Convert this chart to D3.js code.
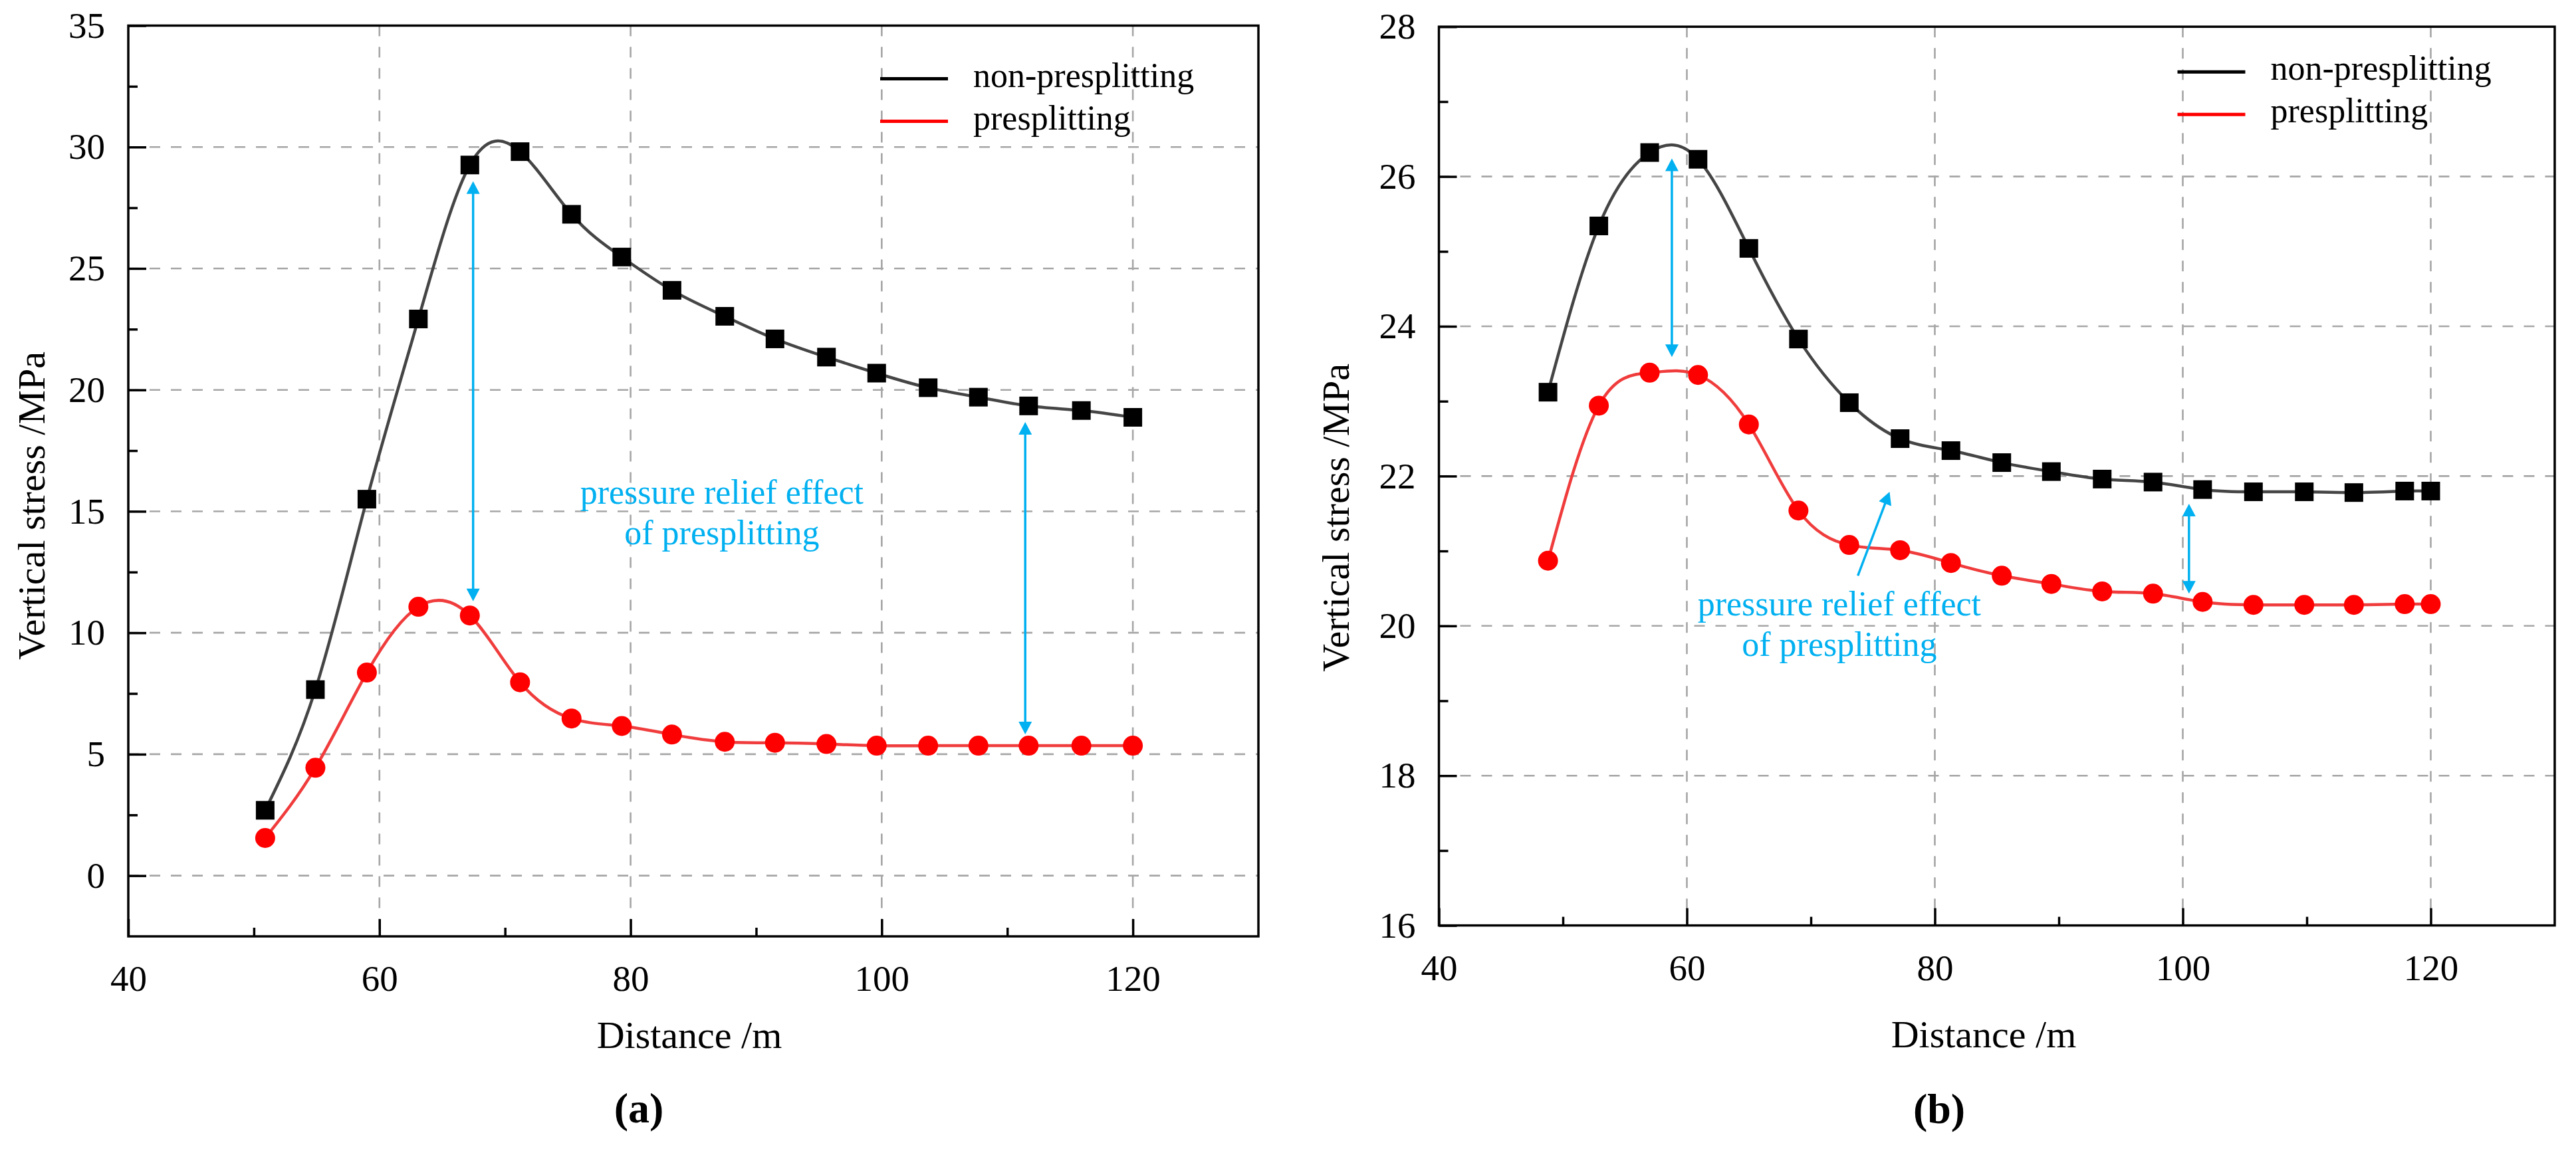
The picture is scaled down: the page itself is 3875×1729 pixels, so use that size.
<!DOCTYPE html>
<html>
<head>
<meta charset="utf-8">
<script src="https://cdn.jsdelivr.net/npm/d3@7"></script>
<style>
  body { margin: 0; background: #fff; }
  svg { display: block; font-family: "Liberation Serif", "Times New Roman", serif; }
</style>
</head>
<body>
<svg width="3875" height="1729"></svg>
<script>
// Values (distance in m, vertical stress in MPa)
var distA = [50.9, 54.9, 59.0, 63.1, 67.2, 71.2, 75.3, 79.3, 83.3, 87.5, 91.5, 95.6, 99.6, 103.7, 107.7, 111.7, 115.9, 120.0];
var nonPresplitA = [2.69, 7.66, 15.5, 22.92, 29.26, 29.81, 27.23, 25.47, 24.10, 23.03, 22.10, 21.35, 20.69, 20.09, 19.70, 19.34, 19.15, 18.87];
var presplitA = [1.55, 4.44, 8.36, 11.07, 10.71, 7.96, 6.47, 6.16, 5.81, 5.51, 5.47, 5.42, 5.35, 5.35, 5.35, 5.35, 5.35, 5.35];

var distB = [48.8, 52.9, 57.0, 60.9, 65.0, 69.0, 73.1, 77.2, 81.3, 85.4, 89.4, 93.5, 97.6, 101.6, 105.7, 109.8, 113.8, 117.9, 120.0];
var nonPresplitB = [23.12, 25.34, 26.32, 26.23, 25.04, 23.83, 22.98, 22.50, 22.34, 22.18, 22.06, 21.96, 21.92, 21.82, 21.79, 21.79, 21.78, 21.80, 21.80];
var presplitB = [20.87, 22.94, 23.38, 23.35, 22.69, 21.54, 21.08, 21.01, 20.84, 20.67, 20.56, 20.46, 20.43, 20.32, 20.28, 20.28, 20.28, 20.29, 20.29];

// Tick values
var xTicks = [40, 60, 80, 100, 120];
var xMinorTicks = [50, 70, 90, 110];
var yTicksA = [0, 5, 10, 15, 20, 25, 30, 35];
var yMinorTicksA = [2.5, 7.5, 12.5, 17.5, 22.5, 27.5, 32.5];
var yTicksB = [16, 18, 20, 22, 24, 26, 28];
var yMinorTicksB = [17, 19, 21, 23, 25, 27];

// Series / legend labels
var seriesNames = ["non-presplitting", "presplitting"];
var annotationLines = ["pressure relief effect", "of presplitting"];

// Arrows in data units: [x1, y1, x2, y2, doubleHeaded]
var arrowsA = [[67.46, 28.59, 67.46, 11.3, true], [111.43, 18.68, 111.43, 5.82, true]];
var arrowsB = [[58.79, 26.24, 58.79, 23.59, true], [100.5, 21.63, 100.5, 20.43, true], [73.79, 20.67, 76.35, 21.79, false]];
// Annotation text anchor (centre x, first baseline y, second baseline y) in data units
var noteA = [87.27, 15.31, 13.64];
var noteB = [72.3, 20.14, 19.60];

var svg = d3.select("svg");
var cyan = "#00b0f0";

function drawPanel(p) {
  var x = d3.scaleLinear().domain([40, 130]).range([p.left, p.right]),
      y = d3.scaleLinear().domain(p.yDomain).range([p.bottom, p.top]),
      g = svg.append("g");

  // dashed grid
  var grid = g.append("g")
    .attr("stroke", "#a6a6a6")
    .attr("stroke-width", 2.6)
    .attr("stroke-dasharray", "16,16");
  grid.selectAll(".vg")
    .data(xTicks.filter(function(d) { return d > 40 && d < 130; }))
    .enter().append("line")
    .attr("x1", function(d) { return x(d); })
    .attr("x2", function(d) { return x(d); })
    .attr("y1", p.top)
    .attr("y2", p.bottom);
  grid.selectAll(".hg")
    .data(p.yTicks.filter(function(d) { return d > p.yDomain[0] && d < p.yDomain[1]; }))
    .enter().append("line")
    .attr("x1", p.left)
    .attr("x2", p.right)
    .attr("y1", function(d) { return y(d); })
    .attr("y2", function(d) { return y(d); });

  // curves
  var line = d3.line()
    .x(function(d) { return x(d[0]); })
    .y(function(d) { return y(d[1]); })
    .curve(d3.curveNatural);
  g.append("path")
    .datum(d3.zip(p.dist, p.red))
    .attr("fill", "none")
    .attr("stroke", "#f03c3c")
    .attr("stroke-width", 4.5)
    .attr("d", line);
  g.append("path")
    .datum(d3.zip(p.dist, p.black))
    .attr("fill", "none")
    .attr("stroke", "#454545")
    .attr("stroke-width", 4.5)
    .attr("d", line);

  // markers
  g.selectAll(".sq")
    .data(d3.zip(p.dist, p.black))
    .enter().append("rect")
    .attr("x", function(d) { return x(d[0]) - 14; })
    .attr("y", function(d) { return y(d[1]) - 14; })
    .attr("width", 28)
    .attr("height", 28)
    .attr("fill", "#000");
  g.selectAll(".dot")
    .data(d3.zip(p.dist, p.red))
    .enter().append("circle")
    .attr("cx", function(d) { return x(d[0]); })
    .attr("cy", function(d) { return y(d[1]); })
    .attr("r", 15)
    .attr("fill", "#ff0000");

  // arrows
  p.arrows.forEach(function(a) {
    var x1 = x(a[0]), y1 = y(a[1]), x2 = x(a[2]), y2 = y(a[3]);
    var len = Math.hypot(x2 - x1, y2 - y1), ux = (x2 - x1) / len, uy = (y2 - y1) / len;
    var head = 19, half = 10;
    var sx = a[4] ? x1 + ux * (head - 2) : x1, sy = a[4] ? y1 + uy * (head - 2) : y1;
    g.append("line")
      .attr("x1", sx).attr("y1", sy)
      .attr("x2", x2 - ux * (head - 2)).attr("y2", y2 - uy * (head - 2))
      .attr("stroke", cyan)
      .attr("stroke-width", 3.5);
    var heads = [[x2, y2, ux, uy]];
    if (a[4]) heads.push([x1, y1, -ux, -uy]);
    heads.forEach(function(h) {
      var bx = h[0] - h[2] * head, by = h[1] - h[3] * head;
      g.append("path")
        .attr("d", "M" + h[0] + "," + h[1] +
          "L" + (bx - h[3] * half) + "," + (by + h[2] * half) +
          "L" + (bx + h[3] * half) + "," + (by - h[2] * half) + "Z")
        .attr("fill", cyan);
    });
  });

  // annotation text
  g.selectAll(".note")
    .data(annotationLines)
    .enter().append("text")
    .attr("x", x(p.note[0]))
    .attr("y", function(d, i) { return y(p.note[i + 1]); })
    .attr("text-anchor", "middle")
    .attr("font-size", 52)
    .attr("fill", cyan)
    .text(function(d) { return d; });

  // axes (ticks pointing inward)
  function styleAxis(sel) {
    sel.attr("font-family", null).attr("font-size", 55);
    sel.select(".domain").remove();
    sel.selectAll("line").attr("stroke", "#000").attr("stroke-width", 3.5);
    sel.selectAll("text").attr("fill", "#000");
  }
  g.append("g")
    .attr("transform", "translate(0," + p.bottom + ")")
    .call(d3.axisBottom(x).tickValues(xTicks).tickSize(-26).tickPadding(43).tickFormat(d3.format("d")))
    .call(styleAxis);
  g.append("g")
    .attr("transform", "translate(0," + p.bottom + ")")
    .call(d3.axisBottom(x).tickValues(xMinorTicks).tickSize(-13).tickFormat(""))
    .call(styleAxis);
  g.append("g")
    .attr("transform", "translate(" + p.left + ",0)")
    .call(d3.axisLeft(y).tickValues(p.yTicks).tickSize(-27).tickPadding(35).tickFormat(d3.format("d")))
    .call(styleAxis);
  g.append("g")
    .attr("transform", "translate(" + p.left + ",0)")
    .call(d3.axisLeft(y).tickValues(p.yMinor).tickSize(-14).tickFormat(""))
    .call(styleAxis);

  // frame
  g.append("rect")
    .attr("x", p.left)
    .attr("y", p.top)
    .attr("width", p.right - p.left)
    .attr("height", p.bottom - p.top)
    .attr("fill", "none")
    .attr("stroke", "#000")
    .attr("stroke-width", 3.5);

  // axis titles
  g.append("text")
    .attr("x", p.xTitle[0])
    .attr("y", p.xTitle[1])
    .attr("text-anchor", "middle")
    .attr("font-size", 58)
    .text("Distance /m");
  g.append("text")
    .attr("transform", "translate(" + p.yTitle[0] + "," + p.yTitle[1] + ") rotate(-90)")
    .attr("text-anchor", "middle")
    .attr("font-size", 58)
    .text("Vertical stress /MPa");

  // legend
  var legend = g.append("g")
    .attr("transform", "translate(" + (p.left + p.legend[0]) + "," + (p.top + p.legend[1]) + ")");
  seriesNames.forEach(function(name, i) {
    legend.append("line")
      .attr("x1", 0).attr("x2", 102)
      .attr("y1", i * 64).attr("y2", i * 64)
      .attr("stroke", i === 0 ? "#000" : "#ff0000")
      .attr("stroke-width", 5);
    legend.append("text")
      .attr("x", 140)
      .attr("y", i * 64 + 12)
      .attr("font-size", 52)
      .text(name);
  });

  // panel label
  g.append("text")
    .attr("x", p.label[0])
    .attr("y", p.label[1])
    .attr("text-anchor", "middle")
    .attr("font-size", 64)
    .attr("font-weight", "bold")
    .text(p.labelText);
}

drawPanel({
  left: 193, right: 1893, top: 38.5, bottom: 1409,
  yDomain: [-2.5, 35], yTicks: yTicksA, yMinor: yMinorTicksA,
  dist: distA, black: nonPresplitA, red: presplitA,
  arrows: arrowsA, note: noteA,
  xTitle: [1037, 1577], yTitle: [67, 761],
  legend: [1131, 80], label: [961, 1689], labelText: "(a)"
});
drawPanel({
  left: 2164.5, right: 3843, top: 40.2, bottom: 1392.6,
  yDomain: [16, 28], yTicks: yTicksB, yMinor: yMinorTicksB,
  dist: distB, black: nonPresplitB, red: presplitB,
  arrows: arrowsB, note: noteB,
  xTitle: [2984, 1576], yTitle: [2029, 779],
  legend: [1111, 68], label: [2917, 1690], labelText: "(b)"
});
</script>
</body>
</html>
